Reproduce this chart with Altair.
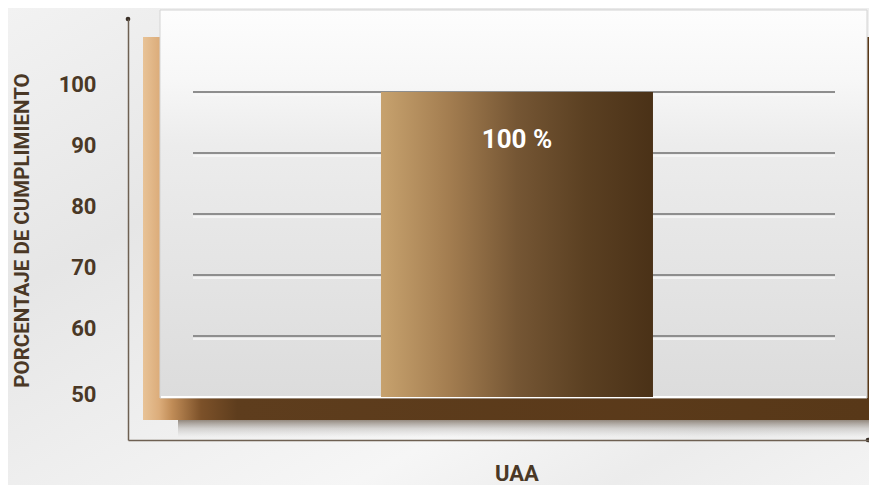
import altair as alt
import pandas as pd

# ---- data ----
categories = ["UAA"]
values = [100]
bar_base = [50]
bar_labels = ["100 %"]
grid_values = [60, 70, 80, 90, 100]
tick_values = [50, 60, 70, 80, 90, 100]

FONT = "Roboto, Liberation Sans, sans-serif"
BROWN = "#4a3826"

df = pd.DataFrame({"cat": categories, "value": values, "base": bar_base, "label": bar_labels})
grid_df = pd.DataFrame({"g": grid_values})

W, H = 741, 421
yscale = alt.Scale(domain=[42.95, 111.97], nice=False, zero=False)
xscale = alt.Scale(paddingInner=0, paddingOuter=0.86213, align=0.5394, round=False)


def grad(stops, x1=0, y1=0, x2=1, y2=0):
    return alt.LinearGradient(
        gradient="linear", x1=x1, y1=y1, x2=x2, y2=y2,
        stops=[alt.GradientStop(offset=o, color=c) for o, c in stops],
    )


base = alt.Chart(df)

background = base.mark_rect(
    color=grad([(0, "#f2f2f2"), (0.3, "#e6e6e6"), (0.5, "#eeeeee"), (0.7, "#f6f6f6"), (0.85, "#ececec"), (1, "#f3f3f3")],
               x1=0, y1=0, x2=1, y2=1)
).encode(x=alt.value(-120), x2=alt.value(741), y=alt.value(-11), y2=alt.value(466))

frame = base.mark_rect(
    color=grad([(0, "#e8c397"), (0.022, "#dcad7b"), (0.04, "#c08c57"), (0.08, "#7c5129"),
                (0.13, "#5e3d1d"), (1, "#583818")])
).encode(x=alt.value(15), x2=alt.value(741), y=alt.value(18), y2=alt.value(401))

shadow = base.mark_rect(
    color=grad([(0, "rgba(70,50,30,0.55)"), (0.5, "rgba(90,80,70,0.2)"), (1, "rgba(120,120,120,0)")],
               x1=0, y1=0, x2=0, y2=1)
).encode(x=alt.value(50), x2=alt.value(741), y=alt.value(401), y2=alt.value(418))

panel = base.mark_rect(
    color=grad([(0, "#fdfdfd"), (0.18, "#f7f7f7"), (0.35, "#ececec"), (1, "#dcdcdc")],
               x1=0, y1=0, x2=0, y2=1),
    stroke="#d4d4d4", strokeWidth=1,
).encode(x=alt.value(32), x2=alt.value(739), y=alt.value(-9), y2=alt.value(379))

panel_edge = base.mark_rule(color="#ffffff", strokeWidth=2).encode(
    x=alt.value(33), x2=alt.value(738), y=alt.value(378)
)

grid = alt.Chart(grid_df).mark_rule(color="#8e8e8e", strokeWidth=2).encode(
    y=alt.Y("g:Q", scale=yscale), x=alt.value(65), x2=alt.value(707)
)
grid_hi = alt.Chart(grid_df).mark_rule(color="#f8f8f8", strokeWidth=1.5, yOffset=3).encode(
    y=alt.Y("g:Q", scale=yscale), x=alt.value(65), x2=alt.value(707)
)

bars = base.mark_bar(
    color=grad([(0, "#c7a26e"), (0.25, "#a37d50"), (0.5, "#755634"), (0.75, "#5b4022"), (1, "#4a3117")])
).encode(
    x=alt.X("cat:N", scale=xscale,
            axis=alt.Axis(title=None, ticks=False, domain=True, domainColor="#6e6052", domainWidth=1.5,
                          labelFont=FONT, labelFontSize=22, labelFontWeight="bold", labelColor=BROWN,
                          labelPadding=23, labelAngle=0, zindex=1)),
    y=alt.Y("value:Q", scale=yscale,
            axis=alt.Axis(values=tick_values, title="PORCENTAJE DE CUMPLIMIENTO", grid=False, ticks=False,
                          domain=True, domainColor="#6e6052", domainWidth=1.5,
                          labelFont=FONT, labelFontSize=22, labelFontWeight="bold", labelColor=BROWN,
                          labelPadding=32,
                          labelOffset={"condition": {"test": "datum.value == 50", "value": -2}, "value": -8},
                          titleFont=FONT, titleFontSize=20.5, titleFontWeight="bold", titleColor=BROWN,
                          titleAngle=270, titleX=-106, titleY=211, titleAlign="center", titleBaseline="middle",
                          zindex=1)),
    y2="base:Q",
)

text = base.mark_text(color="#ffffff", font=FONT, fontSize=26, fontWeight="bold", dy=48, baseline="middle").encode(
    x=alt.X("cat:N", scale=xscale), y=alt.Y("value:Q", scale=yscale), text="label:N"
)

dot1 = base.mark_circle(color="#3a3028", size=22, opacity=1).encode(x=alt.value(0), y=alt.value(0))
dot2 = base.mark_circle(color="#3a3028", size=22, opacity=1).encode(x=alt.value(740), y=alt.value(421))

chart = alt.layer(
    background, frame, shadow, panel, panel_edge, grid_hi, grid, bars, text, dot1, dot2
).properties(
    width=W, height=H,
    autosize=alt.AutoSizeParams(type="none"),
    padding={"left": 120, "top": 11, "right": 0, "bottom": 45},
).configure(background="#ededed").configure_view(stroke=None)

chart.save("out.html", embed_options={"renderer": "svg", "actions": False})
